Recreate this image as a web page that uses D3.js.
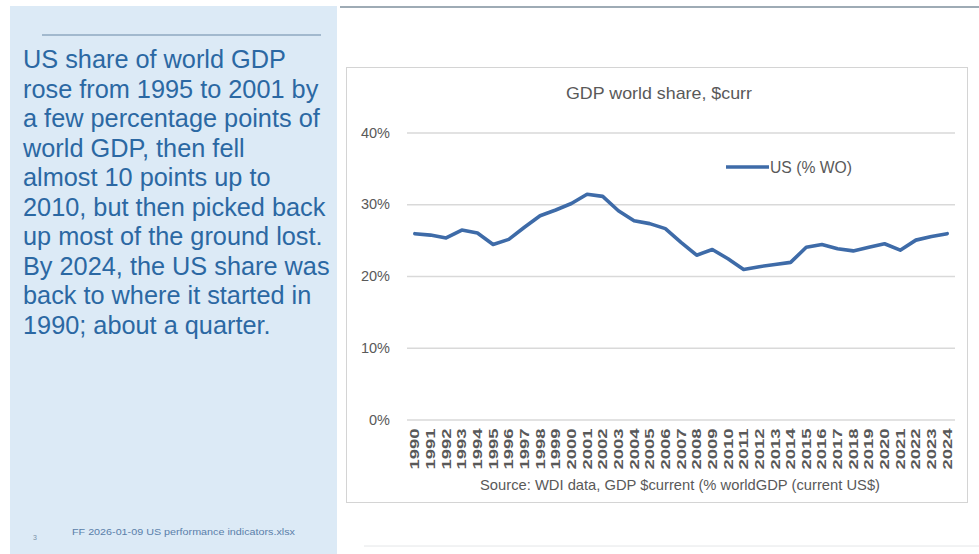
<!DOCTYPE html>
<html>
<head>
<meta charset="utf-8">
<script src="https://cdn.jsdelivr.net/npm/d3@7"></script>
<style>
  html, body { margin: 0; padding: 0; background: #ffffff; }
  svg { display: block; }
</style>
</head>
<body>
<svg id="chart" width="979" height="554"></svg>
<script>
// ---- Data ----
const years = ["1990","1991","1992","1993","1994","1995","1996","1997","1998","1999",
  "2000","2001","2002","2003","2004","2005","2006","2007","2008","2009",
  "2010","2011","2012","2013","2014","2015","2016","2017","2018","2019",
  "2020","2021","2022","2023","2024"];
const usShare = [25.9, 25.7, 25.3, 26.4, 26.0, 24.4, 25.1, 26.8, 28.4, 29.2,
  30.1, 31.4, 31.1, 29.1, 27.7, 27.3, 26.6, 24.7, 22.9, 23.7,
  22.4, 20.9, 21.3, 21.6, 21.9, 24.0, 24.4, 23.8, 23.5, 24.0,
  24.5, 23.6, 25.0, 25.5, 25.9];
const yTicks = [0, 10, 20, 30, 40];
const seriesName = "US (% WO)";
const chartTitle = "GDP world share, $curr";
const sourceNote = "Source: WDI data, GDP $current (% worldGDP (current US$)";
const paragraph = [
  "US share of world GDP",
  "rose from 1995 to 2001 by",
  "a few percentage points of",
  "world GDP, then fell",
  "almost 10 points up to",
  "2010, but then picked back",
  "up most of the ground lost.",
  "By 2024, the US share was",
  "back to where it started in",
  "1990; about a quarter."
];
const footerNote = "FF 2026-01-09 US performance indicators.xlsx";
const pageNumber = "3";

// ---- Drawing ----
const svg = d3.select("#chart");
const axisFont = "'Liberation Sans', Arial, sans-serif";

// left panel
svg.append("rect").attr("x", 10).attr("y", 6).attr("width", 327).attr("height", 548)
  .attr("fill", "#dceaf6");
svg.append("line").attr("x1", 42).attr("x2", 321).attr("y1", 35).attr("y2", 35)
  .attr("stroke", "#8fa9c0").attr("stroke-width", 1.5);
svg.append("g").selectAll("text").data(paragraph).join("text")
  .attr("x", 23)
  .attr("y", (d, i) => 68 + i * 29.5)
  .attr("font-family", "'Liberation Sans', Arial, sans-serif")
  .attr("font-size", 25.3)
  .attr("fill", "#2b68a3")
  .text(d => d);
svg.append("text").attr("x", 33).attr("y", 540).attr("font-size", 7)
  .attr("font-family", axisFont).attr("fill", "#7a90a8").text(pageNumber);
svg.append("text").attr("x", 72).attr("y", 535).attr("font-size", 9)
  .attr("font-family", axisFont).attr("fill", "#5a80aa")
  .attr("textLength", 223).attr("lengthAdjust", "spacingAndGlyphs").text(footerNote);

// top rule right side
svg.append("line").attr("x1", 340).attr("x2", 979).attr("y1", 7).attr("y2", 7)
  .attr("stroke", "#9eabb5").attr("stroke-width", 2);
svg.append("line").attr("x1", 364).attr("x2", 979).attr("y1", 546).attr("y2", 546)
  .attr("stroke", "#e4e6e8").attr("stroke-width", 1);

// chart box
svg.append("rect").attr("x", 346.5).attr("y", 67.5).attr("width", 621).attr("height", 435)
  .attr("fill", "#ffffff").attr("stroke", "#d4d4d4").attr("stroke-width", 1);

const x = d3.scaleBand().domain(years).range([407, 955]);
const y = d3.scaleLinear().domain([0, 40]).range([419.5, 132.5]);

// gridlines + y labels
const yAxis = d3.axisLeft(y).tickValues(yTicks).tickSize(-(955 - 407)).tickPadding(17)
  .tickFormat(d => d + "%");
const gy = svg.append("g").attr("transform", "translate(407,0)").call(yAxis);
gy.select(".domain").remove();
gy.selectAll(".tick line").attr("stroke", "#d9d9d9").attr("stroke-width", 1.3);
gy.selectAll(".tick text").attr("font-family", axisFont).attr("font-size", 14.5)
  .attr("fill", "#595959");

// x labels
const xAxis = d3.axisBottom(x).tickSize(0).tickPadding(0);
const gx = svg.append("g").attr("transform", "translate(0,419.5)").call(xAxis);
gx.select(".domain").remove();
gx.selectAll(".tick text")
  .attr("font-family", axisFont).attr("font-size", 13).attr("font-weight", "bold")
  .attr("fill", "#595959")
  .attr("text-anchor", "end")
  .attr("transform", "translate(0,9) rotate(-90)")
  .attr("x", 0).attr("y", 0).attr("dy", "0.35em")
  .attr("textLength", 41).attr("lengthAdjust", "spacingAndGlyphs");

// line
const line = d3.line()
  .x((d, i) => x(years[i]) + x.bandwidth() / 2)
  .y(d => y(d));
svg.append("path").datum(usShare).attr("d", line)
  .attr("fill", "none").attr("stroke", "#3e6ba8").attr("stroke-width", 3.6)
  .attr("stroke-linejoin", "round").attr("stroke-linecap", "round");

// title
svg.append("text").attr("x", 659).attr("y", 99).attr("text-anchor", "middle")
  .attr("font-family", axisFont).attr("font-size", 17).attr("fill", "#595959")
  .attr("textLength", 186).attr("lengthAdjust", "spacingAndGlyphs").text(chartTitle);

// legend
svg.append("line").attr("x1", 726).attr("x2", 769).attr("y1", 167).attr("y2", 167)
  .attr("stroke", "#3e6ba8").attr("stroke-width", 3.6);
svg.append("text").attr("x", 770).attr("y", 173).attr("font-family", axisFont)
  .attr("font-size", 16).attr("fill", "#595959")
  .attr("textLength", 82).attr("lengthAdjust", "spacingAndGlyphs").text(seriesName);

// source
svg.append("text").attr("x", 680).attr("y", 490).attr("text-anchor", "middle")
  .attr("font-family", axisFont).attr("font-size", 15).attr("fill", "#595959")
  .attr("textLength", 400).attr("lengthAdjust", "spacingAndGlyphs").text(sourceNote);
</script>
</body>
</html>
